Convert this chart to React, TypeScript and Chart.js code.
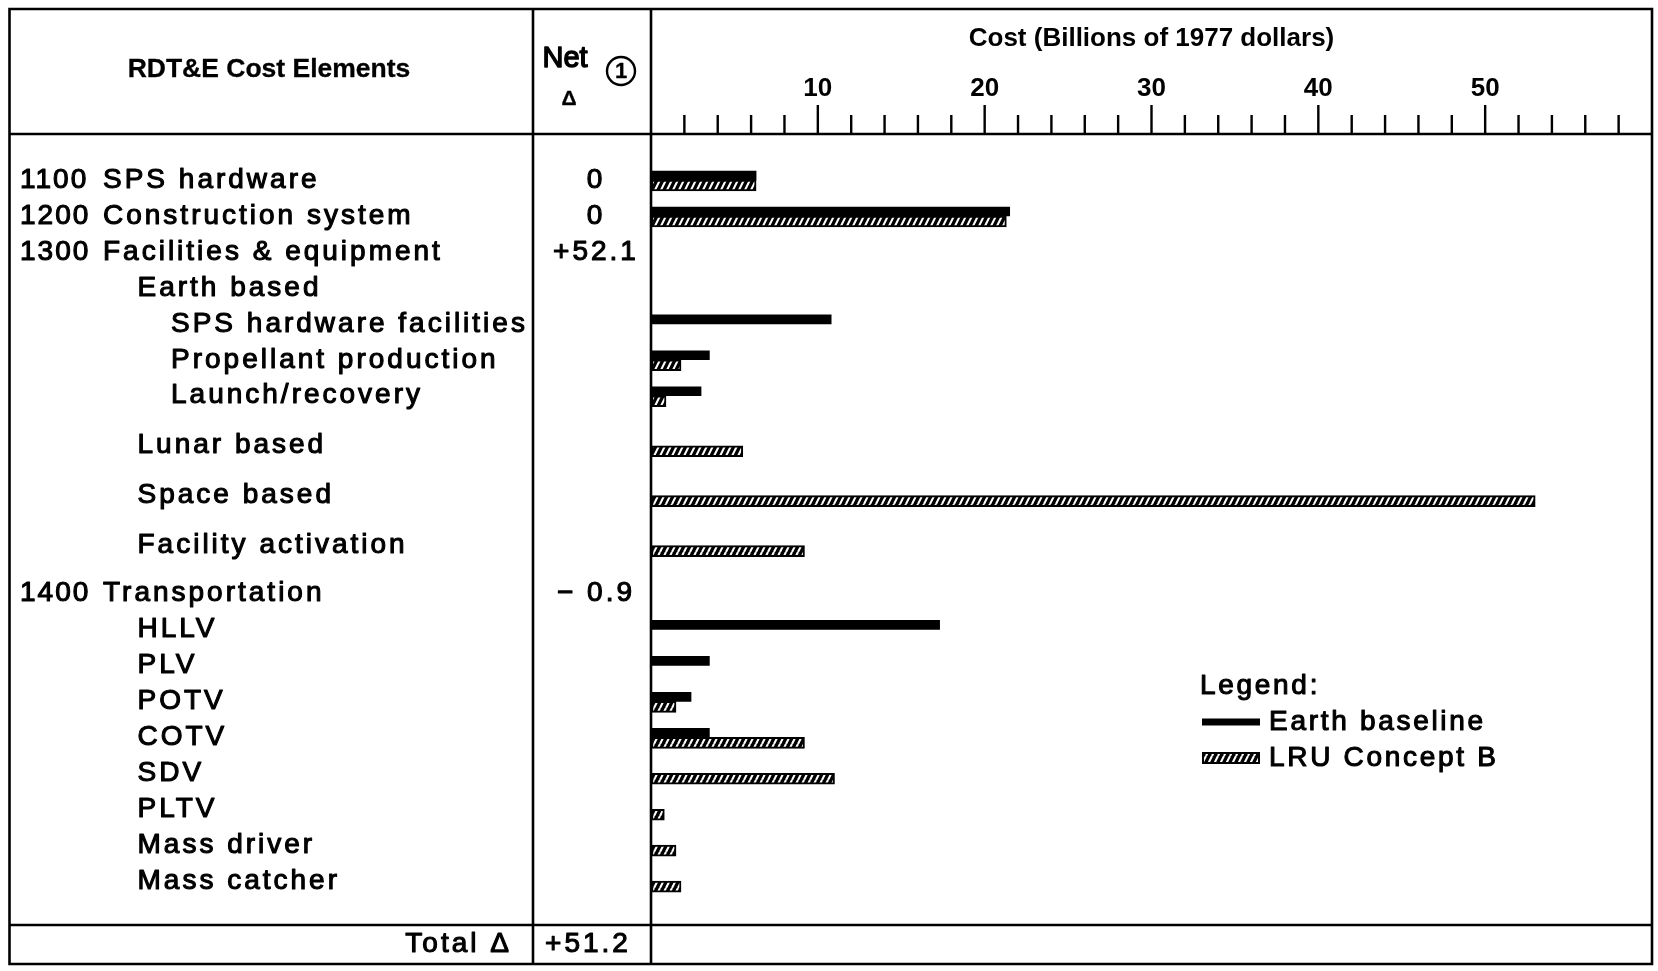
import React, { useEffect, useRef } from 'react';
import { Chart, registerables } from 'chart.js';

Chart.register(...registerables);

// ---------- data ----------
const rowCodes = ['1100', '1200', '1300', '', '', '', '', '', '', '', '1400', '', '', '', '', '', '', '', ''];
const rowLabels = [
  'SPS hardware', 'Construction system', 'Facilities & equipment', 'Earth based',
  'SPS hardware facilities', 'Propellant production', 'Launch/recovery', 'Lunar based',
  'Space based', 'Facility activation', 'Transportation', 'HLLV', 'PLV', 'POTV', 'COTV',
  'SDV', 'PLTV', 'Mass driver', 'Mass catcher',
];
const rowIndent = [0, 0, 0, 1, 2, 2, 2, 1, 1, 1, 0, 1, 1, 1, 1, 1, 1, 1, 1];
const netDelta = ['0', '0', '+52.1', '', '', '', '', '', '', '', '\u2212 0.9', '', '', '', '', '', '', '', ''];
const totalDelta = '+51.2';
const earthBaseline = [6.3, 21.5, null, null, 10.8, 3.5, 3.0, null, null, null, null, 17.3, 3.5, 2.4, 3.5, null, null, null, null];
const lruConceptB = [6.3, 21.3, null, null, null, 1.8, 0.9, 5.5, 53.0, 9.2, null, null, null, 1.5, 9.2, 11.0, 0.8, 1.5, 1.8];
const seriesNames = ['Earth baseline', 'LRU Concept B'];
const axisTitle = 'Cost (Billions of 1977 dollars)';
const axisMin = 0;
const axisMax = 60;
const tickStep = 2;
const labelStep = 10;

// ---------- layout (row slots, not data) ----------
const rowSlot = [0, 1, 2, 3, 4, 5, 6, 7.39, 8.78, 10.17, 11.5, 12.5, 13.5, 14.5, 15.5, 16.5, 17.5, 18.5, 19.5];
const slotMin = -1.28;
const slotMax = 20.72;

const W = 1658;
const H = 971;
const FONT = "'Liberation Sans', Arial, sans-serif";

function makeHatch(): CanvasPattern | string {
  const c = document.createElement('canvas');
  c.width = 6;
  c.height = 12;
  const g = c.getContext('2d');
  if (!g) return '#000';
  g.fillStyle = '#000';
  g.fillRect(0, 0, 6, 12);
  g.strokeStyle = '#fff';
  g.lineWidth = 2.1;
  g.beginPath();
  for (const dx of [-6, 0, 6]) {
    g.moveTo(dx, 12);
    g.lineTo(dx + 6, 0);
  }
  g.stroke();
  return g.createPattern(c, 'repeat') || '#000';
}

function txt(ctx: CanvasRenderingContext2D, s: string, x: number, y: number, font: string, align: CanvasTextAlign, spacing = '0px', stroke = 1.1) {
  ctx.save();
  ctx.font = font;
  (ctx as any).letterSpacing = spacing;
  ctx.textAlign = align;
  ctx.textBaseline = 'middle';
  ctx.fillStyle = '#000';
  ctx.fillText(s, x, y);
  if (stroke > 0) {
    ctx.strokeStyle = '#000';
    ctx.lineWidth = stroke;
    ctx.lineJoin = 'round';
    ctx.strokeText(s, x, y);
  }
  ctx.restore();
}

export default function App() {
  const ref = useRef<HTMLCanvasElement>(null);

  useEffect(() => {
    document.body.style.margin = '0';
    const canvas = ref.current;
    if (!canvas) return;
    const hatch = makeHatch();

    const tablePlugin = {
      id: 'tablePlugin',
      afterDraw(chart: any) {
        const ctx: CanvasRenderingContext2D = chart.ctx;
        const xs = chart.scales.x;
        const ys = chart.scales.y;
        const ca = chart.chartArea;
        const L = 9.5, R = ca.right, T = 9, B = 964;
        const c1 = 533, c2 = ca.left;
        const hLine = ca.top, bLine = ca.bottom;

        ctx.save();
        ctx.strokeStyle = '#000';
        ctx.lineWidth = 2.6;
        ctx.lineCap = 'square';
        ctx.beginPath();
        ctx.rect(L, T, R - L, B - T);
        ctx.moveTo(c1, T); ctx.lineTo(c1, B);
        ctx.moveTo(c2, T); ctx.lineTo(c2, B);
        ctx.moveTo(L, hLine); ctx.lineTo(R, hLine);
        ctx.moveTo(L, bLine); ctx.lineTo(R, bLine);
        ctx.stroke();

        // axis ticks (from the scale)
        ctx.lineWidth = 2.4;
        ctx.lineCap = 'butt';
        ctx.beginPath();
        for (const t of xs.ticks) {
          const v = t.value;
          if (v <= axisMin || v >= axisMax) continue;
          const px = xs.getPixelForValue(v);
          const len = v % labelStep === 0 ? 29 : 19;
          ctx.moveTo(px, hLine);
          ctx.lineTo(px, hLine - len);
        }
        ctx.stroke();
        ctx.restore();

        // headers
        txt(ctx, 'RDT&E Cost Elements', 269, 70, `bold 26.5px ${FONT}`, 'center', '0px', 0.3);
        txt(ctx, 'Net', 565, 59, `29px ${FONT}`, 'center', '0px', 1.4);
        txt(ctx, '\u0394', 569, 99, `bold 21px ${FONT}`, 'center', '0px', 0.3);
        ctx.save();
        ctx.beginPath();
        ctx.lineWidth = 2.4;
        ctx.strokeStyle = '#000';
        ctx.arc(621, 71, 14, 0, Math.PI * 2);
        ctx.stroke();
        ctx.restore();
        txt(ctx, '1', 621, 72, `bold 22px ${FONT}`, 'center', '0px', 0.3);

        // rows
        const rowFont = `28px ${FONT}`;
        const indentX = [103, 137.5, 171];
        rowLabels.forEach((lab, i) => {
          const y = ys.getPixelForValue(rowSlot[i]);
          if (rowCodes[i]) txt(ctx, rowCodes[i], 20, y, rowFont, 'left', '2px');
          txt(ctx, lab, indentX[rowIndent[i]], y, rowFont, 'left', '3px');
          if (netDelta[i]) txt(ctx, netDelta[i], 596, y, rowFont, 'center', '3px');
        });

        // total row
        const ty = (bLine + B) / 2;
        txt(ctx, 'Total \u0394', 512, ty, rowFont, 'right', '3px');
        txt(ctx, totalDelta, 588, ty, rowFont, 'center', '3px');

        // legend
        const lx = 1200;
        txt(ctx, 'Legend:', lx, 686, rowFont, 'left', '2.7px');
        const ds = chart.data.datasets;
        ctx.save();
        ctx.fillStyle = '#000';
        ctx.fillRect(1202, 718.5, 58, 7);
        ctx.fillStyle = ds[1].backgroundColor;
        ctx.fillRect(1202, 752, 58, 12);
        ctx.strokeStyle = '#000';
        ctx.lineWidth = 2;
        ctx.strokeRect(1203, 753, 56, 10);
        ctx.restore();
        txt(ctx, ds[0].label, 1269, 722, rowFont, 'left', '2.7px');
        txt(ctx, ds[1].label, 1269, 758, rowFont, 'left', '2.7px');
      },
    };

    const chart = new Chart(canvas, {
      type: 'bar',
      data: {
        datasets: [
          {
            label: seriesNames[0],
            data: earthBaseline.map((v, i) => ({ x: v, y: rowSlot[i] })) as any,
            backgroundColor: '#000',
            borderWidth: 0,
            barThickness: 9,
          },
          {
            label: seriesNames[1],
            data: lruConceptB.map((v, i) => ({ x: v, y: rowSlot[i] })) as any,
            backgroundColor: hatch as any,
            borderColor: '#000',
            borderWidth: 2,
            borderSkipped: false,
            barThickness: 11,
          },
        ],
      },
      options: {
        indexAxis: 'y',
        responsive: false,
        animation: false,
        layout: { padding: { left: 651, right: 6, top: 23.4, bottom: 46 } },
        plugins: { legend: { display: false }, tooltip: { enabled: false } },
        scales: {
          x: {
            type: 'linear',
            position: 'top',
            min: axisMin,
            max: axisMax,
            border: { display: false },
            grid: { display: true, drawOnChartArea: false, drawTicks: true, tickLength: 29, color: 'rgba(0,0,0,0)' },
            ticks: {
              stepSize: tickStep,
              autoSkip: false,
              maxRotation: 0,
              padding: 1,
              color: '#000',
              font: { family: FONT, size: 26, weight: 'bold' },
              callback: (v: any) => (v % labelStep === 0 && v > axisMin && v < axisMax ? String(v) : ''),
            },
            title: {
              display: true,
              text: axisTitle,
              color: '#000',
              font: { family: FONT, size: 26, weight: 'bold' },
              padding: { top: 0, bottom: 17.2 },
            },
          },
          y: {
            type: 'linear',
            reverse: true,
            offset: false,
            min: slotMin,
            max: slotMax,
            display: false,
          },
        },
      },
      plugins: [tablePlugin],
    });

    return () => chart.destroy();
  }, []);

  return (
    <div style={{ width: W, height: H, background: '#fff' }}>
      <canvas ref={ref} width={W} height={H} style={{ display: 'block' }} />
    </div>
  );
}
